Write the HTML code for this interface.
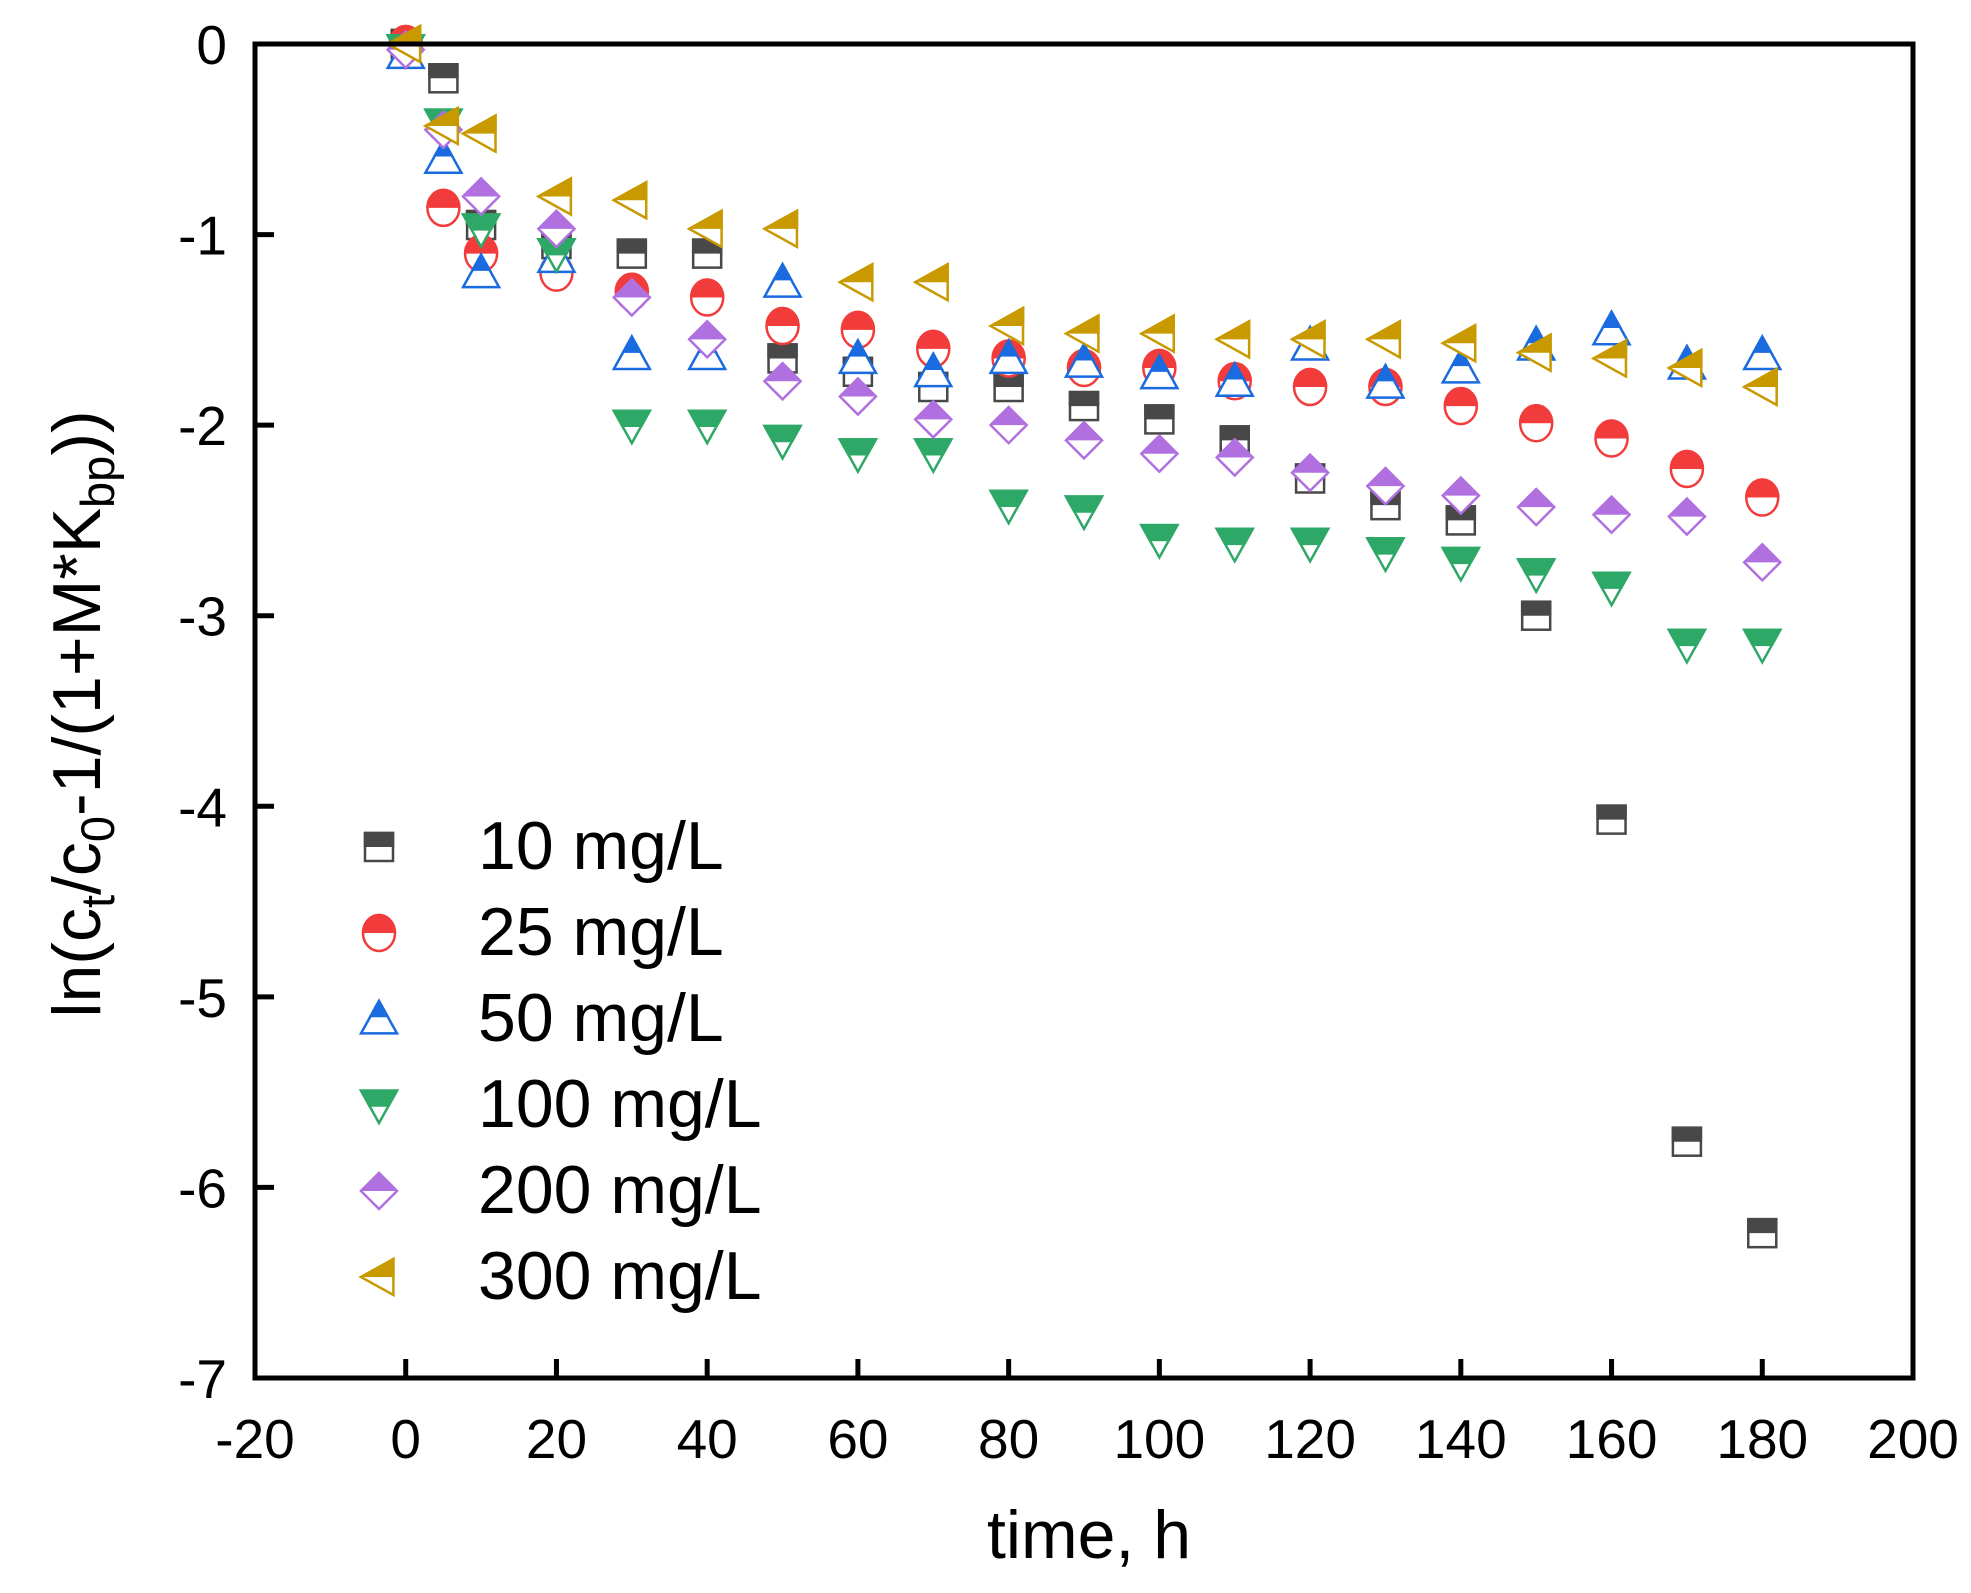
<!DOCTYPE html>
<html><head><meta charset="utf-8"><style>
html,body{margin:0;padding:0;background:#fff}
svg{display:block;font-family:"Liberation Sans",Arial,sans-serif}
</style></head><body>
<svg id="chart" width="1971" height="1593" viewBox="0 0 1971 1593" xmlns="http://www.w3.org/2000/svg">
<defs><clipPath id="tophalf" clipPathUnits="objectBoundingBox"><rect x="-0.1" y="-0.1" width="1.2" height="0.6"/></clipPath></defs>
<g id="marks"></g>
<g id="axes"></g>
</svg>
<script>
const times=[0,5,10,20,30,40,50,60,70,80,90,100,110,120,130,140,150,160,170,180];
const s10=[0,-0.18,-0.95,-1.05,-1.1,-1.1,-1.65,-1.72,-1.8,-1.8,-1.9,-1.97,-2.08,-2.28,-2.42,-2.5,-3.0,-4.07,-5.76,-6.24];
const s25=[0,-0.86,-1.1,-1.2,-1.3,-1.33,-1.48,-1.5,-1.6,-1.65,-1.7,-1.7,-1.77,-1.8,-1.8,-1.9,-1.99,-2.07,-2.23,-2.38];
const s50=[-0.05,-0.6,-1.2,-1.12,-1.63,-1.63,-1.25,-1.65,-1.72,-1.65,-1.67,-1.73,-1.77,-1.58,-1.78,-1.7,-1.58,-1.5,-1.68,-1.63];
const s100=[-0.03,-0.42,-0.97,-1.1,-2.0,-2.0,-2.08,-2.15,-2.15,-2.42,-2.45,-2.6,-2.62,-2.62,-2.67,-2.72,-2.78,-2.85,-3.15,-3.15];
const s200=[-0.03,-0.45,-0.8,-0.97,-1.33,-1.55,-1.77,-1.85,-1.97,-2.0,-2.08,-2.15,-2.17,-2.25,-2.32,-2.37,-2.43,-2.47,-2.48,-2.72];
const s300=[0,-0.43,-0.47,-0.8,-0.82,-0.97,-0.97,-1.25,-1.25,-1.48,-1.52,-1.52,-1.55,-1.55,-1.55,-1.57,-1.62,-1.65,-1.7,-1.8];
const seriesLabels=["10 mg/L","25 mg/L","50 mg/L","100 mg/L","200 mg/L","300 mg/L"];
const xTicks=[-20,0,20,40,60,80,100,120,140,160,180,200];
const yTicks=[0,-1,-2,-3,-4,-5,-6,-7];

const L=255,R=1913,T=44,B=1378;
const X=v=>L+(v+20)/220*(R-L);
const Y=v=>T+(0-v)/7*(B-T);
const NS="http://www.w3.org/2000/svg";
function mk(tag,attrs,parent){const e=document.createElementNS(NS,tag);for(const k in attrs)e.setAttribute(k,attrs[k]);parent.appendChild(e);return e;}
const series=[s10,s25,s50,s100,s200,s300];
const colors=["#484848","#f23c3c","#1a6ae0","#2ea866","#b070e0","#c89a00"];
const shapes=["square","circle","up","down","diamond","left"];
function shapeEl(kind,cx,cy,parent,attrs){
  const r=18;let e;
  if(kind==="square")e=mk("rect",Object.assign({x:cx-14,y:cy-14,width:28,height:28},attrs),parent);
  else if(kind==="circle")e=mk("ellipse",Object.assign({cx:cx,cy:cy,rx:16,ry:18},attrs),parent);
  else{let p;
    if(kind==="up")p=[[cx,cy-r],[cx+r,cy+r*0.8],[cx-r,cy+r*0.8]];
    else if(kind==="down")p=[[cx-r,cy-r*0.8],[cx+r,cy-r*0.8],[cx,cy+r]];
    else if(kind==="diamond")p=[[cx,cy-r],[cx+r,cy],[cx,cy+r],[cx-r,cy]];
    else p=[[cx-r,cy],[cx+r*0.8,cy-r],[cx+r*0.8,cy+r]];
    e=mk("polygon",Object.assign({points:p.map(q=>q.join(",")).join(" ")},attrs),parent);}
  return e;
}
function marker(kind,color,cx,cy,parent){
  const g=mk("g",{},parent);
  shapeEl(kind,cx,cy,g,{fill:"#fff",stroke:color,"stroke-width":2.5});
  shapeEl(kind,cx,cy,g,{fill:color,stroke:color,"stroke-width":2.5,"clip-path":"url(#tophalf)"});
  return g;
}
const marks=document.getElementById("marks");
series.forEach((s,si)=>{
  const sg=mk("g",{},marks);
  
  
  s.forEach((v,i)=>{
    const m=marker(shapes[si],colors[si],X(times[i]),Y(v),sg);
    
    
  });
});
const ax=document.getElementById("axes");
const frame=mk("rect",{x:L,y:T,width:R-L,height:B-T,fill:"none",stroke:"#000","stroke-width":5},ax);


xTicks.forEach(v=>{
  mk("line",{x1:X(v),x2:X(v),y1:B,y2:B-19,stroke:"#000","stroke-width":5},ax);
  const t=mk("text",{x:X(v),y:1458,"text-anchor":"middle","font-size":55},ax);t.textContent=v;
  
  
});
yTicks.forEach(v=>{
  mk("line",{x1:L,x2:L+19,y1:Y(v),y2:Y(v),stroke:"#000","stroke-width":5},ax);
  const t=mk("text",{x:227,y:Y(v)+20,"text-anchor":"end","font-size":55},ax);t.textContent=v;
  
  
});
const xt=mk("text",{x:1089,y:1558,"text-anchor":"middle","font-size":68},ax);xt.textContent="time, h";


const yt=mk("text",{x:0,y:0,"text-anchor":"middle","font-size":68,transform:"translate(100,714) rotate(-90)"},ax);
yt.innerHTML='ln(c<tspan dy="14" font-size="47">t</tspan><tspan dy="-14">/c</tspan><tspan dy="14" font-size="47">0</tspan><tspan dy="-14">-1/(1+M*K</tspan><tspan dy="14" font-size="47">bp</tspan><tspan dy="-14">))</tspan>';


const lg=mk("g",{},ax);


seriesLabels.forEach((lab,i)=>{
  const y=847+i*86;
  const e=mk("g",{},lg);
  
  
  marker(shapes[i],colors[i],379,y,e);
  const t=mk("text",{x:478,y:y+22,"font-size":68},e);t.textContent=lab;
});
</script>
</body></html>
